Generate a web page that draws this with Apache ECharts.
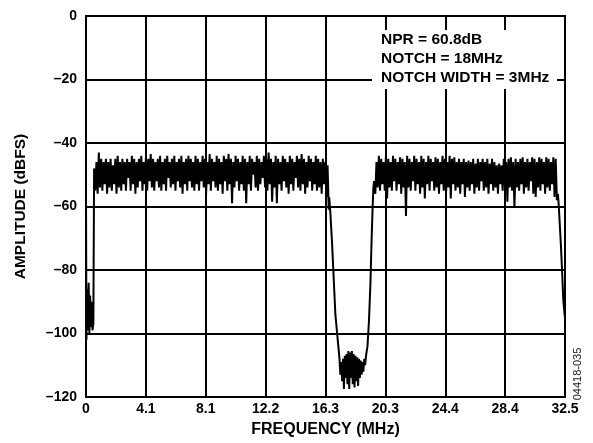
<!DOCTYPE html>
<html>
<head>
<meta charset="utf-8">
<script src="https://cdn.jsdelivr.net/npm/echarts@6/dist/echarts.min.js"></script>
<style>
html,body{margin:0;padding:0;background:#fff;}
#chart{width:593px;height:443px;}
</style>
</head>
<body>
<div id="chart"></div>
<script>
// ---- data ----
const xTickMin = 0, xTickMax = 32.5, xTickCount = 8;
const yTicks = [0, -20, -40, -60, -80, -100, -120];
const annotationLines = ['NPR = 60.8dB', 'NOTCH = 18MHz', 'NOTCH WIDTH = 3MHz'];

// DC region
const dcFreq = [0, 0.03, 0.08, 0.13, 0.18, 0.23, 0.28, 0.33, 0.38, 0.44, 0.5];
const dcAmp  = [-56, -102, -86, -99, -84, -100, -88, -98, -90, -99, -97];

// noise band 1 (uniform bins)
const band1Start = 0.55, band1Step = 0.08;
const band1Amp = [
-48,-55, -46,-56, -43,-54, -45,-55, -46,-53, -45,-56, -46,-54, -45,-55, -47,-53, -45,-56,
-44,-54, -46,-55, -45,-53, -46,-55, -45,-51, -46,-55, -44,-53, -45,-56, -46,-54, -45,-52,
-44,-55, -46,-53, -44,-55, -45,-52, -43.5,-54, -45,-55, -46,-52, -45,-54, -44,-55, -46,-53,
-45,-55, -44,-51, -46,-54, -45,-53, -44,-55, -46,-52, -45,-54, -44,-56, -46,-53, -45,-55,
-44,-52, -45,-54, -46,-55, -44,-53, -45,-55, -46,-52, -44,-54, -45,-56, -46,-53, -43.5,-55,
-45,-52, -46,-54, -44,-55, -45,-53, -46,-56, -44,-52, -45,-55, -43.5,-53, -45,-59, -46,-54,
-44,-52, -45,-55, -46,-53, -44,-55, -45,-59, -46,-53, -44,-55, -45,-50, -46,-54, -44,-55,
-45,-53, -46,-51, -44,-54, -45,-55, -43,-53, -45,-58.5, -46,-54, -44,-59, -45,-53, -46,-55,
-44,-52, -45,-54, -46,-56, -44,-53, -45,-55, -46,-51, -44,-54, -45,-55, -43.5,-53, -45,-56,
-46,-54, -44,-52, -45,-55, -46,-53, -44,-55, -45,-54, -46,-56, -45,-53, -46,-57, -47,-61
];

// notch
const notchInFreq = [16.5, 16.58, 16.7, 16.8, 16.92, 17.04, 17.14];
const notchInAmp  = [-57, -62, -72, -82, -94, -100, -105];
const floorStart = 17.2, floorStep = 0.06;
const floorAmp = [-108, -113, -109, -115, -108, -117.5, -107, -114, -106.5, -116, -105.5, -117.5,
  -106, -114, -105.5, -116, -106.5, -117, -107, -115, -107.5, -116.5, -108, -114, -108.5, -113,
  -109, -112, -108, -110, -107];
const notchOutFreq = [19.1, 19.2, 19.3, 19.38, 19.45, 19.5];
const notchOutAmp  = [-104, -96, -84, -70, -60, -54];

// noise band 2 (uniform bins)
const band2Start = 19.55, band2Step = 0.08;
const band2Amp = [
-52,-56, -46,-54, -44,-55, -45,-53, -46,-55, -44,-57.5, -45,-54, -46,-55, -44,-52, -45,-55,
-46,-53, -44.5,-56, -45,-54, -46,-63, -44,-54, -45,-55, -46,-52, -44,-55, -45,-53, -46,-56,
-44,-54, -45,-57.5, -46,-53, -44,-55, -45,-52, -46,-55, -44.5,-54, -45,-56, -46,-53, -44,-55,
-45,-56, -46,-54, -44,-57.5, -45,-53, -44.5,-55, -46,-54, -45,-56, -46,-53, -45,-57, -46,-54,
-45.5,-55, -46,-53, -45,-56, -46.5,-54, -45,-55, -46,-52, -45,-55, -46,-54, -45,-56, -46.5,-53,
-45,-55, -46,-54, -47,-56, -46.5,-53, -47,-55, -45,-54, -46,-58.5, -45,-54, -44.5,-55, -46,-60.5,
-45,-54, -46,-55, -45,-53, -44.5,-56, -46,-54, -45,-55, -46,-52, -44.5,-56, -45,-57, -46,-54,
-44.5,-55, -45,-53, -46,-56, -44.5,-54, -45,-55, -46,-53, -44.5,-57, -45,-58
];

// upper band edge
const edgeFreq = [32.02, 32.08, 32.15, 32.22, 32.3, 32.38, 32.45, 32.5];
const edgeAmp  = [-56, -60, -66, -72, -80, -89, -93, -95];

// ---- build series points ----
const pts = [];
dcFreq.forEach((f, i) => pts.push([f, dcAmp[i]]));
band1Amp.forEach((a, i) => pts.push([band1Start + i * band1Step, a]));
notchInFreq.forEach((f, i) => pts.push([f, notchInAmp[i]]));
floorAmp.forEach((a, i) => pts.push([floorStart + i * floorStep, a]));
notchOutFreq.forEach((f, i) => pts.push([f, notchOutAmp[i]]));
band2Amp.forEach((a, i) => pts.push([band2Start + i * band2Step, a]));
edgeFreq.forEach((f, i) => pts.push([f, edgeAmp[i]]));

const FONT = 'Liberation Sans, Arial, Helvetica, sans-serif';
const chart = echarts.init(document.getElementById('chart'), null, {renderer: 'canvas'});
chart.setOption({
  animation: false,
  backgroundColor: '#fff',
  grid: {left: 86, right: 28, top: 16, bottom: 43, show: true, borderColor: '#000', borderWidth: 2, backgroundColor: 'transparent'},
  xAxis: {
    type: 'value', min: xTickMin, max: xTickMax, interval: (xTickMax - xTickMin) / xTickCount,
    name: 'FREQUENCY (MHz)', nameLocation: 'middle', nameGap: 25,
    nameTextStyle: {fontFamily: FONT, fontWeight: 'bold', fontSize: 16, color: '#000'},
    axisLine: {show: true, lineStyle: {color: '#000', width: 2}},
    axisTick: {show: false},
    axisLabel: {margin: 5, fontFamily: FONT, fontWeight: 'bold', fontSize: 14, color: '#000',
      formatter: v => v === 0 ? '0' : v.toFixed(1)},
    splitLine: {show: true, lineStyle: {color: '#000', width: 2}}
  },
  yAxis: {
    type: 'value', min: yTicks[yTicks.length - 1], max: yTicks[0], interval: 20,
    name: 'AMPLITUDE (dBFS)', nameLocation: 'middle', nameGap: 57,
    nameTextStyle: {fontFamily: FONT, fontWeight: 'bold', fontSize: 15.5, color: '#000'},
    axisLine: {show: true, lineStyle: {color: '#000', width: 2}},
    axisTick: {show: false},
    axisLabel: {margin: 9, fontFamily: FONT, fontWeight: 'bold', fontSize: 14, color: '#000',
      formatter: v => v === 0 ? '0' : '\u2013' + Math.abs(v)},
    splitLine: {show: true, lineStyle: {color: '#000', width: 2}}
  },
  graphic: [
    {type: 'rect', z: 100, shape: {x: 372, y: 30, width: 185, height: 59}, style: {fill: '#fff'}},
    {type: 'text', z: 101, x: 381, y: 30, style: {text: annotationLines.join('\n'), fill: '#000',
      font: 'bold 15.5px ' + FONT, lineHeight: 19, textAlign: 'left', textVerticalAlign: 'top'}},
    {type: 'text', z: 101, x: 578, y: 374, rotation: Math.PI / 2, style: {text: '04418-035', fill: '#222',
      font: '11px ' + FONT, textAlign: 'center', textVerticalAlign: 'middle'}}
  ],
  series: [{
    type: 'line', data: pts, showSymbol: false, symbol: 'none', sampling: null,
    lineStyle: {color: '#000', width: 2}, z: 5, silent: true
  }]
});
</script>
</body>
</html>
